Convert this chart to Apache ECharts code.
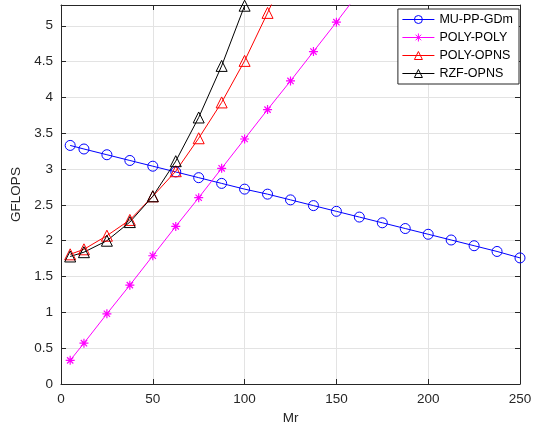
<!DOCTYPE html>
<html>
<head>
<meta charset="utf-8">
<script src="https://cdn.jsdelivr.net/npm/echarts@6/dist/echarts.min.js"></script>
<style>html,body{margin:0;padding:0;background:#fff;}#c{width:535px;height:429px;}</style>
</head>
<body>
<div id="c"></div>
<script>
const mrAll = [5, 12.5, 25, 37.5, 50, 62.5, 75, 87.5, 100, 112.5, 125, 137.5, 150, 162.5, 175, 187.5, 200, 212.5, 225, 237.5, 250];
const muPPGDm = [3.33, 3.28, 3.20, 3.12, 3.04, 2.96, 2.88, 2.80, 2.72, 2.65, 2.57, 2.49, 2.41, 2.33, 2.25, 2.17, 2.09, 2.01, 1.93, 1.85, 1.76];
const mrPolyPoly = [5, 12.5, 25, 37.5, 50, 62.5, 75, 87.5, 100, 112.5, 125, 137.5, 150, 162.5];
const polyPoly = [0.33, 0.57, 0.98, 1.38, 1.79, 2.20, 2.60, 3.01, 3.42, 3.83, 4.23, 4.64, 5.05, 5.47];
const mrPolyOpns = [5, 12.5, 25, 37.5, 50, 62.5, 75, 87.5, 100, 112.5, 125];
const polyOpns = [1.81, 1.88, 2.07, 2.29, 2.62, 2.97, 3.43, 3.93, 4.51, 5.18, 5.87];
const mrRzfOpns = [5, 12.5, 25, 37.5, 50, 62.5, 75, 87.5, 100];
const rzfOpns = [1.78, 1.84, 2.00, 2.26, 2.62, 3.11, 3.72, 4.44, 5.28];
const seriesNames = ['MU-PP-GDm', 'POLY-POLY', 'POLY-OPNS', 'RZF-OPNS'];
const xTicks = [0, 50, 100, 150, 200, 250];
const yTickStep = 0.5;

const pair = (xs, ys) => xs.map((x, i) => [x, ys[i]]);
const font = 'Liberation Sans, Arial, Helvetica, sans-serif';
const axisColor = '#262626';
const labelColor = '#262626';
const star = 'path://M5 0 L5 10 M0 5 L10 5 M1.5 1.5 L8.5 8.5 M8.5 1.5 L1.5 8.5';

function mk(name, data, color, symbol, size, bw) {
  return {
    name, type: 'line', data, symbol, symbolSize: size,
    showSymbol: true, clip: true,
    lineStyle: { color, width: 1 },
    itemStyle: { color: 'rgba(255,255,255,0)', borderColor: color, borderWidth: bw },
    emphasis: { disabled: true }, animation: false
  };
}

const chart = echarts.init(document.getElementById('c'), null, { renderer: 'canvas' });
chart.setOption({
  animation: false,
  backgroundColor: '#fff',
  grid: { left: 61, right: 15, top: 5, bottom: 45, containLabel: false, outerBoundsMode: 'none' },
  legend: {
    orient: 'vertical', right: 16, top: 9,
    backgroundColor: '#fff', borderColor: '#262626', borderWidth: 1,
    padding: [4, 6, 4, 4], itemGap: 5, itemWidth: 32, itemHeight: 10,
    itemStyle: { borderWidth: 1, color: 'rgba(255,255,255,0)' },
    lineStyle: { width: 1 },
    textStyle: { fontFamily: font, fontSize: 12.5, color: '#000' },
    data: seriesNames
  },
  xAxis: [{
    type: 'value', min: 0, max: 250, interval: 50,
    name: 'Mr', nameLocation: 'middle', nameGap: 27,
    nameTextStyle: { fontFamily: font, fontSize: 13.5, color: labelColor },
    axisLine: { show: true, onZero: false, lineStyle: { color: axisColor } },
    axisTick: { show: true, inside: true, length: 5, lineStyle: { color: axisColor } },
    axisLabel: { fontFamily: font, fontSize: 13.5, color: labelColor, margin: 8 },
    splitLine: { show: true, lineStyle: { color: '#e3e3e3' } }
  }, {
    type: 'value', position: 'top', min: 0, max: 250, interval: 50,
    axisLine: { show: true, onZero: false, lineStyle: { color: axisColor } },
    axisTick: { show: true, inside: true, length: 5, lineStyle: { color: axisColor } },
    axisLabel: { show: false }, splitLine: { show: false }
  }],
  yAxis: [{
    type: 'value', min: 0, max: 5.29, interval: yTickStep,
    name: 'GFLOPS', nameLocation: 'middle', nameGap: 33, nameRotate: 90,
    nameTextStyle: { fontFamily: font, fontSize: 13.5, color: labelColor },
    axisLine: { show: true, onZero: false, lineStyle: { color: axisColor } },
    axisTick: { show: true, inside: true, length: 5, lineStyle: { color: axisColor } },
    axisLabel: { fontFamily: font, fontSize: 13.5, color: labelColor, margin: 8, showMaxLabel: false,
      formatter: v => String(Math.round(v * 10) / 10) },
    splitLine: { show: true, lineStyle: { color: '#e3e3e3' } }
  }, {
    type: 'value', position: 'right', min: 0, max: 5.29, interval: yTickStep,
    axisLine: { show: true, onZero: false, lineStyle: { color: axisColor } },
    axisTick: { show: true, inside: true, length: 5, lineStyle: { color: axisColor } },
    axisLabel: { show: false }, splitLine: { show: false }
  }],
  series: [
    mk(seriesNames[0], pair(mrAll, muPPGDm), '#0000ff', 'circle', 10, 1),
    mk(seriesNames[1], pair(mrPolyPoly, polyPoly), '#ff00ff', star, 9, 1.2),
    mk(seriesNames[2], pair(mrPolyOpns, polyOpns), '#ff0000', 'triangle', 11, 1),
    mk(seriesNames[3], pair(mrRzfOpns, rzfOpns), '#000000', 'triangle', 11, 1)
  ]
});
</script>
</body>
</html>
